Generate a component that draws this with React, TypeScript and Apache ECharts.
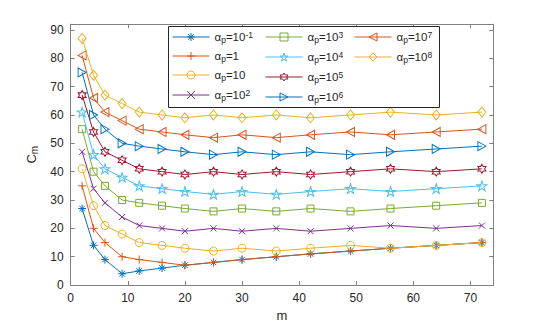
import React, { useEffect, useRef } from 'react';
import * as echarts from 'echarts';

// ---- data ----
const mValues = [2, 4, 6, 9, 12, 16, 20, 25, 30, 36, 42, 49, 56, 64, 72];
const alphaExponents = ['-1', '0', '1', '2', '3', '4', '5', '6', '7', '8'];
const cmAlphaNeg1 = [27, 14, 9, 4, 5, 6, 7, 8, 9, 10, 11, 12, 13, 14, 15];
const cmAlpha1 = [35, 20, 15, 10, 9, 8, 7, 8, 9, 10, 11, 12, 13, 14, 15];
const cmAlpha10 = [41, 28, 21, 18, 15, 14, 13, 12, 13, 12, 13, 14, 13, 14, 15];
const cmAlpha1e2 = [47, 34, 29, 24, 21, 20, 19, 20, 19, 20, 19, 20, 21, 20, 21];
const cmAlpha1e3 = [55, 40, 35, 30, 29, 28, 27, 26, 27, 26, 27, 26, 27, 28, 29];
const cmAlpha1e4 = [61, 46, 41, 38, 35, 34, 33, 32, 33, 32, 33, 34, 33, 34, 35];
const cmAlpha1e5 = [67, 54, 47, 44, 41, 40, 39, 40, 39, 40, 39, 40, 41, 40, 41];
const cmAlpha1e6 = [75, 60, 55, 50, 49, 48, 47, 46, 47, 46, 47, 46, 47, 48, 49];
const cmAlpha1e7 = [81, 66, 61, 58, 55, 54, 53, 52, 53, 52, 53, 54, 53, 54, 55];
const cmAlpha1e8 = [87, 74, 67, 64, 61, 60, 59, 60, 59, 60, 59, 60, 61, 60, 61];
const xTickLabels = ['0', '10', '20', '30', '40', '50', '60', '70'];
const yTickLabels = ['0', '10', '20', '30', '40', '50', '60', '70', '80', '90'];

const seriesValues = [
  cmAlphaNeg1, cmAlpha1, cmAlpha10, cmAlpha1e2, cmAlpha1e3,
  cmAlpha1e4, cmAlpha1e5, cmAlpha1e6, cmAlpha1e7, cmAlpha1e8,
];

// ---- styles ----
const colors = [
  '#0072BD', '#D95319', '#EDB120', '#7E2F8E', '#77AC30',
  '#4DBEEE', '#A2142F', '#0072BD', '#D95319', '#EDB120',
];
const symbols: string[] = [
  'path://M5,0L5,10M0,5L10,5M1.5,1.5L8.5,8.5M8.5,1.5L1.5,8.5',
  'path://M5,0L5,10M0,5L10,5',
  'circle',
  'path://M0,0L10,10M10,0L0,10',
  'rect',
  'path://M5,0L6.123,3.455L9.755,3.455L6.817,5.59L7.939,9.045L5,6.91L2.061,9.045L3.183,5.59L0.245,3.455L3.877,3.455Z',
  'path://M5,0L6.443,2.5L9.33,2.5L7.887,5L9.33,7.5L6.443,7.5L5,10L3.557,7.5L0.67,7.5L2.113,5L0.67,2.5L3.557,2.5Z',
  'path://M0,0L10,5L0,10Z',
  'path://M10,0L0,5L10,10Z',
  'diamond',
];
const symbolSizes: any[] = [8, 8, 8, 6, 7, [10, 9.5], [8, 9], [8, 9], [8, 9], [8, 10]];

const FONT = '"Liberation Sans", Arial, Helvetica, sans-serif';
const TEXT = '#262626';
const AXIS = '#808080';
const CLEAR = 'rgba(255,255,255,0)';

const seriesName = (i: number) => 'a' + alphaExponents[i];
const legendLabel = (name: string) => {
  const e = name.slice(1);
  if (e === '0') return '{a|α}{s|p}{a|=1}';
  if (e === '1') return '{a|α}{s|p}{a|=10}';
  return '{a|α}{s|p}{a|=10}{u|' + e + '}';
};

const legendColumns = [
  [0, 1, 2, 3],
  [4, 5, 6, 7],
  [8, 9],
];
const legendLefts = [172, 265, 354];

const tickFormatter = (labels: string[]) => (v: number) =>
  labels.indexOf(String(v)) >= 0 ? String(v) : '';

function buildOption(): any {
  const series = seriesValues.map((vals, i) => ({
    type: 'line',
    name: seriesName(i),
    data: mValues.map((m, j) => [m, vals[j]]),
    symbol: symbols[i],
    symbolSize: symbolSizes[i],
    showAllSymbol: true,
    lineStyle: { color: colors[i], width: 1 },
    itemStyle: { color: CLEAR, borderColor: colors[i], borderWidth: 1 },
    emphasis: { disabled: true },
    z: 2 + i * 0.01,
  }));

  const axisCommon = {
    type: 'value',
    splitLine: { show: false },
    axisLine: { show: true, onZero: false, lineStyle: { color: AXIS, width: 1 } },
    axisTick: { show: true, inside: true, length: 4, lineStyle: { color: AXIS, width: 1 } },
  };

  return {
    animation: false,
    backgroundColor: '#ffffff',
    grid: { left: 70.7, right: 51.7, top: 24.2, bottom: 36, containLabel: false },
    xAxis: [
      {
        ...axisCommon,
        min: 0, max: 74, interval: 10, position: 'bottom',
        axisLabel: { color: TEXT, fontSize: 12, fontFamily: FONT, margin: 7, formatter: tickFormatter(xTickLabels) },
        name: 'm', nameLocation: 'middle', nameGap: 20,
        nameTextStyle: { color: TEXT, fontSize: 13, fontFamily: FONT },
      },
      {
        ...axisCommon,
        min: 0, max: 74, interval: 10, position: 'top',
        axisLabel: { show: false },
      },
    ],
    yAxis: [
      {
        ...axisCommon,
        min: 0, max: 92, interval: 10, position: 'left',
        axisLabel: { color: TEXT, fontSize: 12, fontFamily: FONT, margin: 7, formatter: tickFormatter(yTickLabels) },
        name: '{c|C}{s|m}', nameLocation: 'middle', nameRotate: 90, nameGap: 27,
        nameTextStyle: {
          color: TEXT, fontFamily: FONT,
          rich: {
            c: { fontSize: 13, lineHeight: 16, color: TEXT, fontFamily: FONT },
            s: { fontSize: 10, lineHeight: 8, verticalAlign: 'bottom', color: TEXT, fontFamily: FONT },
          },
        },
      },
      {
        ...axisCommon,
        min: 0, max: 92, interval: 10, position: 'right',
        axisLabel: { show: false },
      },
    ],
    legend: legendColumns.map((col, c) => ({
      orient: 'vertical',
      left: legendLefts[c],
      top: 30,
      padding: 0,
      itemWidth: 37,
      itemHeight: 10,
      itemGap: 6,
      selectedMode: false,
      z: 10,
      data: col.map((i) => seriesName(i)),
      formatter: legendLabel,
      itemStyle: { color: CLEAR, borderWidth: 1 },
      lineStyle: { width: 1 },
      textStyle: {
        color: TEXT, fontFamily: FONT, fontSize: 11,
        rich: {
          a: { fontSize: 11.5, lineHeight: 14, color: TEXT, fontFamily: FONT },
          s: { fontSize: 8.5, lineHeight: 6, verticalAlign: 'bottom', color: TEXT, fontFamily: FONT },
          u: { fontSize: 8.5, lineHeight: 6, verticalAlign: 'top', color: TEXT, fontFamily: FONT },
        },
      },
    })),
    graphic: [
      {
        type: 'rect',
        z: 5,
        shape: { x: 168.5, y: 26.5, width: 271, height: 81 },
        style: { fill: '#ffffff', stroke: '#262626', lineWidth: 1 },
        silent: true,
      },
    ],
    series,
  };
}

export default function App() {
  const ref = useRef<HTMLDivElement>(null);
  useEffect(() => {
    if (!ref.current) return;
    const chart = echarts.init(ref.current, undefined, { renderer: 'svg' });
    chart.setOption(buildOption());
    return () => chart.dispose();
  }, []);
  return (
    <div
      ref={ref}
      style={{ position: 'fixed', left: 0, top: 0, width: 545, height: 327, background: '#fff' }}
    />
  );
}
